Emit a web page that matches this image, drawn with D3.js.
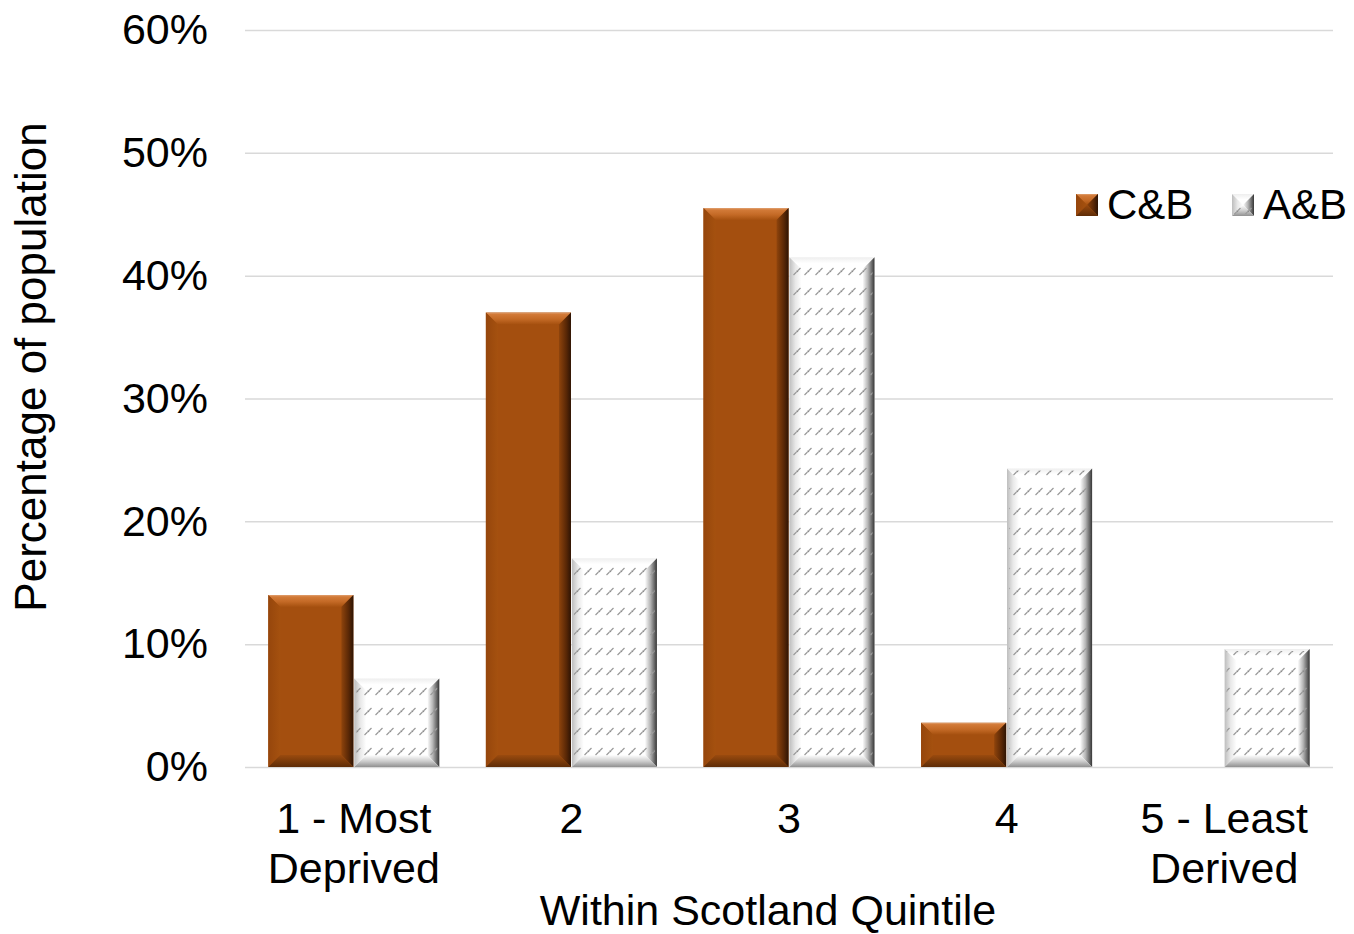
<!DOCTYPE html>
<html>
<head>
<meta charset="utf-8">
<script src="https://cdn.jsdelivr.net/npm/d3@7"></script>
<style>
  html, body { margin: 0; padding: 0; background: #fff; }
  svg { display: block; font-family: "Liberation Sans", Arial, sans-serif; }
</style>
</head>
<body>
<svg id="chart" width="1354" height="934"></svg>
<script>
// Share of population by Scotland deprivation quintile
const categories = ["1 - Most Deprived", "2", "3", "4", "5 - Least Derived"];
const categoryLines = [["1 - Most", "Deprived"], ["2"], ["3"], ["4"], ["5 - Least", "Derived"]];
const seriesNames = ["C&B", "A&B"];
const cbValues = [14.0, 37.0, 45.5, 3.6, 0];
const abValues = [7.2, 17.0, 41.5, 24.3, 9.6];
const yTicks = [0, 10, 20, 30, 40, 50, 60];
const yTitle = "Percentage of population";
const xTitle = "Within Scotland Quintile";

const svg = d3.select("#chart");
const margin = { left: 245, right: 21, top: 30, bottom: 167 };
const W = 1354, H = 934;
const plotW = W - margin.left - margin.right;
const plotH = H - margin.top - margin.bottom;
const FONT = 43;

const defs = svg.append("defs");

// gradients for the bevelled bar edges
function linGrad(id, x1, y1, x2, y2, stops) {
  const g = defs.append("linearGradient").attr("id", id)
    .attr("x1", x1).attr("y1", y1).attr("x2", x2).attr("y2", y2);
  stops.forEach(s => g.append("stop").attr("offset", s[0]).attr("stop-color", s[1]));
}
// brown series
linGrad("cb-top", 0, 0, 0, 1, [[0, "#e0a070"], [0.15, "#d27a38"], [0.55, "#c46a26"], [1, "#a5500f"]]);
linGrad("cb-left", 0, 0, 1, 0, [[0, "#96460c"], [1, "#a5510f"]]);
linGrad("cb-right", 0, 0, 1, 0, [[0, "#8f440c"], [0.6, "#5a2806"], [1, "#2e1404"]]);
linGrad("cb-bottom", 0, 0, 0, 1, [[0, "#9a4a0e"], [1, "#5e2c07"]]);
// white series
linGrad("ab-top", 0, 0, 0, 1, [[0, "#eeeeee"], [0.5, "#ffffff"], [1, "#ffffff"]]);
linGrad("ab-left", 0, 0, 1, 0, [[0, "#bdbdbd"], [0.5, "#e8e8e8"], [1, "#ffffff"]]);
linGrad("ab-right", 0, 0, 1, 0, [[0, "#ffffff"], [0.45, "#b5b5b5"], [1, "#363636"]]);
linGrad("ab-bottom", 0, 0, 0, 1, [[0, "#ffffff"], [0.5, "#cfcfcf"], [1, "#909090"]]);

// fine dashed-diagonal texture on the white series
const pat = defs.append("pattern").attr("id", "ab-texture")
  .attr("patternUnits", "userSpaceOnUse").attr("width", 11).attr("height", 20);
pat.append("path").attr("d", "M1.5,15 L4.5,12 M6,10.5 L8.5,8")
  .attr("stroke", "#9c9c9c").attr("stroke-width", 1.3).attr("fill", "none");
pat.append("circle").attr("cx", 5.3).attr("cy", 11.3).attr("r", 1).attr("fill", "#8e8e8e");

const x = d3.scaleBand().domain(categories)
  .range([margin.left, margin.left + plotW])
  .paddingInner(0.214).paddingOuter(0.107);
const xs = d3.scaleBand().domain(seriesNames).range([0, x.bandwidth()]).paddingInner(0.01);
const y = d3.scaleLinear().domain([0, 60]).range([margin.top + plotH, margin.top]);

// y axis: labels and gridlines
const yAxis = svg.append("g")
  .attr("transform", `translate(${margin.left},0)`)
  .call(d3.axisLeft(y).tickValues(yTicks).tickFormat(d => d + "%")
    .tickSize(-plotW).tickPadding(37));
yAxis.select(".domain").remove();
yAxis.selectAll(".tick line").attr("stroke", "#d9d9d9").attr("stroke-width", 1.5);
yAxis.selectAll(".tick text").attr("font-size", FONT).attr("fill", "#000")
  .attr("font-family", "Liberation Sans, Arial, sans-serif");

// x axis labels
const xAxis = svg.append("g")
  .attr("transform", `translate(0,${margin.top + plotH})`)
  .call(d3.axisBottom(x).tickSize(0).tickPadding(0));
xAxis.select(".domain").remove();
xAxis.selectAll(".tick text").each(function (d, i) {
  const t = d3.select(this).text(null)
    .attr("font-size", FONT).attr("fill", "#000")
    .attr("font-family", "Liberation Sans, Arial, sans-serif")
    .attr("y", 0).attr("dy", null);
  categoryLines[i].forEach((line, j) => {
    t.append("tspan").attr("x", 0).attr("y", 66 + j * 50).text(line);
  });
});

// bevelled bars
function bevelBar(g, bx, by, bw, bh, key) {
  if (bh <= 0) return;
  const b = Math.min(12, bw / 2, bh / 2);
  const face = key === "cb" ? "#a44f0f" : "#ffffff";
  g.append("rect").attr("x", bx).attr("y", by).attr("width", bw).attr("height", bh).attr("fill", face);
  const poly = (pts, fill) => g.append("polygon")
    .attr("points", pts.map(p => p.join(",")).join(" ")).attr("fill", fill);
  poly([[bx, by], [bx + bw, by], [bx + bw - b, by + b], [bx + b, by + b]], `url(#${key}-top)`);
  poly([[bx, by], [bx + b, by + b], [bx + b, by + bh - b], [bx, by + bh]], `url(#${key}-left)`);
  poly([[bx + bw, by], [bx + bw, by + bh], [bx + bw - b, by + bh - b], [bx + bw - b, by + b]], `url(#${key}-right)`);
  poly([[bx, by + bh], [bx + b, by + bh - b], [bx + bw - b, by + bh - b], [bx + bw, by + bh]], `url(#${key}-bottom)`);
  if (key === "ab") {
    g.append("rect").attr("x", bx + 2).attr("y", by + 2).attr("width", bw - 4).attr("height", bh - 4)
      .attr("fill", "url(#ab-texture)");
  }
}

const bars = svg.append("g");
categories.forEach((c, i) => {
  [["C&B", cbValues[i], "cb"], ["A&B", abValues[i], "ab"]].forEach(([s, v, key]) => {
    const bx = x(c) + xs(s);
    const bw = xs.bandwidth();
    const by = y(v);
    bevelBar(bars.append("g"), bx, by, bw, y(0) - by, key);
  });
});

// axis titles
svg.append("text")
  .attr("transform", "translate(46,367)rotate(-90)")
  .attr("text-anchor", "middle").attr("font-size", 44).attr("fill", "#000")
  .text(yTitle);
svg.append("text")
  .attr("x", x(categories[2]) + x.bandwidth() / 2 - 21).attr("y", 925)
  .attr("text-anchor", "middle").attr("font-size", FONT).attr("fill", "#000")
  .text(xTitle);

// legend
const legend = svg.append("g");
const legendItems = [{ name: "C&B", key: "cb", x: 1076 }, { name: "A&B", key: "ab", x: 1232 }];
legendItems.forEach(it => {
  const g = legend.append("g");
  bevelBar(g, it.x, 194, 22, 22, it.key);
  g.append("text").attr("x", it.x + 31).attr("y", 219)
    .attr("font-size", 42).attr("fill", "#000").text(it.name);
});
</script>
</body>
</html>
